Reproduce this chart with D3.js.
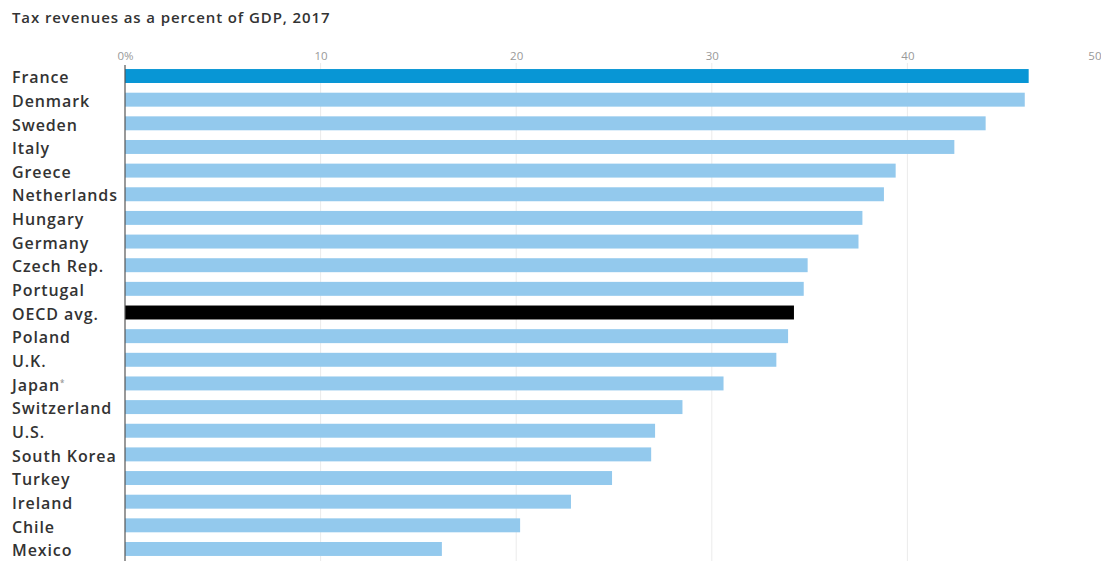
<!DOCTYPE html>
<html><head><meta charset="utf-8">
<script src="https://cdn.jsdelivr.net/npm/d3@7"></script>
<style>body{margin:0;background:#fff;}svg{display:block;}</style>
</head><body>
<svg id="c" width="1101" height="561"></svg>
<script>
const countries = ["France","Denmark","Sweden","Italy","Greece","Netherlands","Hungary","Germany","Czech Rep.","Portugal","OECD avg.","Poland","U.K.","Japan","Switzerland","U.S.","South Korea","Turkey","Ireland","Chile","Mexico"];
const values = [46.2,46.0,44.0,42.4,39.4,38.8,37.7,37.5,34.9,34.7,34.2,33.9,33.3,30.6,28.5,27.1,26.9,24.9,22.8,20.2,16.2];
const tickValues = [0,10,20,30,40,50];
const tickLabels = ["0%","10","20","30","40","50"];
const title = "Tax revenues as a percent of GDP, 2017";

const svg = d3.select("#c");
const x = d3.scaleLinear().domain([0,50]).range([125,1103]);
const y = d3.scaleBand().domain(countries).range([64.2,560.8]).paddingInner(0.41).paddingOuter(0.205);

svg.append("text").attr("x",12).attr("y",23).text(title)
  .attr("font-family","Open Sans, sans-serif").attr("font-size",15).attr("font-weight",600)
  .attr("letter-spacing",0.9).attr("fill","#333");

// gridlines
svg.append("g").selectAll("line").data(tickValues.slice(1)).join("line")
  .attr("x1",d=>x(d)).attr("x2",d=>x(d)).attr("y1",63).attr("y2",561)
  .attr("stroke","#ebebeb").attr("stroke-width",1);

// top axis labels
const ax = svg.append("g").attr("transform","translate(0,60)")
  .call(d3.axisTop(x).tickValues(tickValues).tickFormat((d,i)=>tickLabels[i]).tickSize(0).tickPadding(0));
ax.select(".domain").remove();
ax.selectAll("text").attr("font-family","Open Sans, sans-serif").attr("font-size",11.5).attr("fill","#999")
  .attr("text-anchor",(d,i)=>i===tickValues.length-1?"end":"middle")
  .attr("dx",(d,i)=>i===tickValues.length-1?-2:0);

// bars
svg.append("g").selectAll("rect").data(countries).join("rect")
  .attr("x",x(0)).attr("y",d=>y(d)).attr("height",y.bandwidth())
  .attr("width",(d,i)=>x(values[i])-x(0))
  .attr("fill",d=>d==="France"?"#0896d5":(d==="OECD avg."?"#000":"#93c9ed"));

// left axis line
svg.append("line").attr("x1",125).attr("x2",125).attr("y1",65).attr("y2",561).attr("stroke","#555").attr("stroke-width",1.2);

// category labels
const lab = svg.append("g").selectAll("text").data(countries).join("text")
  .attr("x",12).attr("y",d=>y(d)+y.bandwidth()/2).attr("dy","0.45em")
  .attr("font-family","Open Sans, sans-serif").attr("font-size",16).attr("font-weight",600)
  .attr("letter-spacing",0.9).attr("fill","#333");
lab.each(function(d){
  const t = d3.select(this);
  if(d==="Japan"){
    t.append("tspan").text("Japan");
    t.append("tspan").text("*").attr("font-size",8).attr("dy","-0.6em").attr("fill","#999");
  } else t.text(d);
});
</script>
</body></html>
